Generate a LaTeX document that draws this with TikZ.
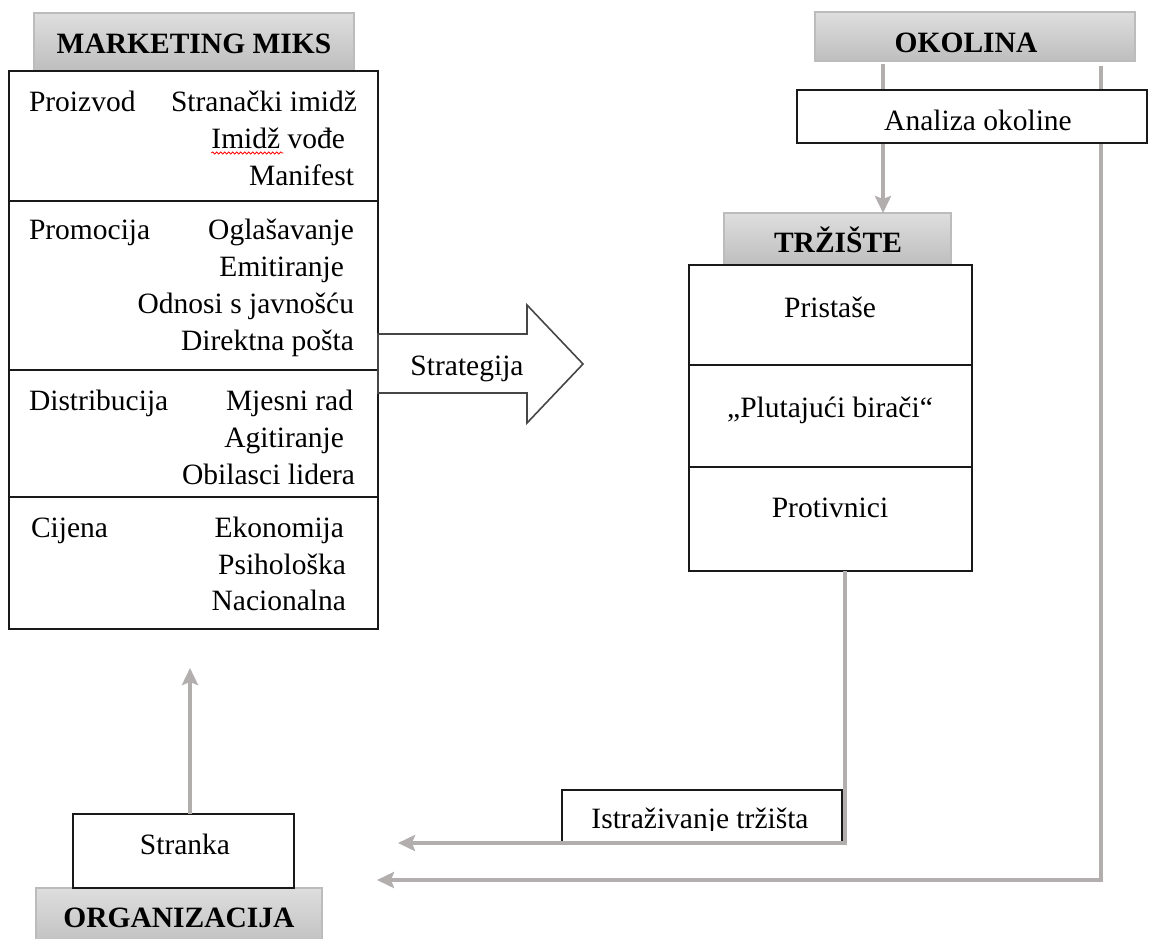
\documentclass[tikz,border=0pt]{standalone}
\usepackage{fontspec}
\setmainfont{Liberation Serif}
\usetikzlibrary{arrows.meta,decorations.pathmorphing}
\definecolor{hdrtop}{RGB}{222,222,222}
\definecolor{hdrbot}{RGB}{190,190,190}
\definecolor{hdrline}{RGB}{188,188,188}
\definecolor{flowc}{RGB}{178,174,174}
\definecolor{boxline}{RGB}{25,25,25}
\definecolor{arrline}{RGB}{70,70,70}
\begin{document}
\begin{tikzpicture}[x=1pt,y=-1pt,
  txt/.style={font=\fontsize{29.5}{37}\selectfont, inner sep=0pt, outer sep=0pt},
  htxt/.style={font=\fontsize{29.5}{37}\selectfont\bfseries, inner sep=0pt, outer sep=0pt},
  boxn/.style={draw=boxline, line width=1.6pt, fill=white, inner sep=0pt, outer sep=0pt},
  hdr/.style={draw=hdrline, line width=1.2pt, top color=hdrtop, bottom color=hdrbot, inner sep=0pt, outer sep=0pt},
  divider/.style={draw=boxline, line width=1.4pt},
  flowline/.style={draw=flowc, line width=4.5pt},
  flowarrow/.style={flowline, -{Stealth[length=17pt,width=16pt,inset=3pt]}},
  bigarrow/.style={draw=arrline, line width=1.6pt, fill=white},
  ltxt/.style={txt, anchor=base west},
  rtxt/.style={txt, anchor=base east},
  ctxt/.style={txt, anchor=base}
]
\useasboundingbox[fill=white] (0,0) rectangle (1149,938);

% ---------- MARKETING MIKS ----------
\node[hdr, minimum width=320pt, minimum height=58pt] (mmh) at (194,42) {};
\node[htxt, anchor=base] (mmt) at (194,53) {MARKETING MIKS};
\node[boxn, minimum width=369pt, minimum height=558pt] (mb) at (193.5,350) {};
\coordinate (d1) at (0,201);
\coordinate (d2) at (0,370);
\coordinate (d3) at (0,497);
\draw[divider] (mb.west |- d1) -- (mb.east |- d1);
\draw[divider] (mb.west |- d2) -- (mb.east |- d2);
\draw[divider] (mb.west |- d3) -- (mb.east |- d3);

\node[ltxt] (l1) at (29,111) {Proizvod};
\node[rtxt] (r1a) at (357,111) {Stranački imidž};
\node[rtxt] (r1b) at (345,148) {Imidž vođe};
\node[rtxt] (r1c) at (354,185) {Manifest};
\draw[red, line width=0.8pt, decorate, decoration={snake, amplitude=1.1pt, segment length=4pt}]
  ([yshift=-5pt]r1b.base west) -- ++(72,0);

\node[ltxt] (l2) at (29,239) {Promocija};
\node[rtxt] (r2a) at (354,239) {Oglašavanje};
\node[rtxt] (r2b) at (344,276) {Emitiranje};
\node[rtxt] (r2c) at (354,313) {Odnosi s javnošću};
\node[rtxt] (r2d) at (354,350) {Direktna pošta};

\node[ltxt] (l3) at (29,410) {Distribucija};
\node[rtxt] (r3a) at (353,410) {Mjesni rad};
\node[rtxt] (r3b) at (344,447) {Agitiranje};
\node[rtxt] (r3c) at (355,484) {Obilasci lidera};

\node[ltxt] (l4) at (31,537) {Cijena};
\node[rtxt] (r4a) at (344,537) {Ekonomija};
\node[rtxt] (r4b) at (346,574) {Psihološka};
\node[rtxt] (r4c) at (346,610) {Nacionalna};

% ---------- Strategija arrow ----------
\draw[bigarrow] (378,334) -- (527,334) -- (527,305) -- (583,364) -- (527,423) -- (527,393) -- (378,393) -- cycle;
\node[ctxt] (strat) at (467,375) {Strategija};

% ---------- OKOLINA ----------
\node[hdr, minimum width=320pt, minimum height=49pt] (okh) at (975,36.5) {};
\node[htxt, anchor=base] (okt) at (966,52) {OKOLINA};

% ---------- TRZISTE ----------
\node[hdr, minimum width=227pt, minimum height=52pt] (trh) at (837.5,239) {};
\node[htxt, anchor=base] (trt) at (838,252) {TRŽIŠTE};
\node[boxn, minimum width=283pt, minimum height=306pt] (tr) at (830.5,418) {};
\coordinate (e1) at (0,365);
\coordinate (e2) at (0,467);
\draw[divider] (tr.west |- e1) -- (tr.east |- e1);
\draw[divider] (tr.west |- e2) -- (tr.east |- e2);
\node[ctxt] (t1) at (830,317) {Pristaše};
\node[ctxt] (t2) at (830,417) {„Plutajući birači“};
\node[ctxt] (t3) at (830,517) {Protivnici};

% ---------- Istrazivanje trzista ----------
\node[boxn, minimum width=280pt, minimum height=53pt] (ist) at (702,816.5) {};
\begin{scope}
  \clip (560,790) rectangle (842,830);
  \node[ctxt] (istt) at (700,828) {Istraživanje tržišta};
\end{scope}

% ---------- ORGANIZACIJA / Stranka ----------
\node[hdr, minimum width=286pt, minimum height=62pt] (orh) at (179,919) {};
\node[htxt, anchor=base] (ort) at (179,927) {ORGANIZACIJA};
\node[boxn, minimum width=221pt, minimum height=74pt] (st) at (183.5,851) {};
\node[ctxt] (stt) at (185,854) {Stranka};

% ---------- flow connectors ----------
\coordinate (okL) at (883,0);
\coordinate (okR) at (1101,0);
\coordinate (trX) at (845,0);
\coordinate (tipA) at (398,843);
\coordinate (tipB) at (377,880);
\coordinate (tipC) at (190,668);

\draw[flowarrow, shorten <=3pt] (okh.south -| okL) -- (trh.north -| okL);
\draw[flowline, shorten <=5pt, -{Stealth[length=17pt,width=16pt,inset=3pt]}] (okh.south -| okR) -- (okR |- tipB) -- (tipB);
\draw[flowarrow] (tr.south -| trX) -- (trX |- ist.south) -- (tipA);
\draw[flowarrow] (st.north -| tipC) -- (tipC);

% Analiza okoline drawn over the lines
\node[boxn, minimum width=350pt, minimum height=53pt] (an) at (972,116.5) {};
\node[ctxt] (ant) at (978,130) {Analiza okoline};
\end{tikzpicture}
\end{document}
